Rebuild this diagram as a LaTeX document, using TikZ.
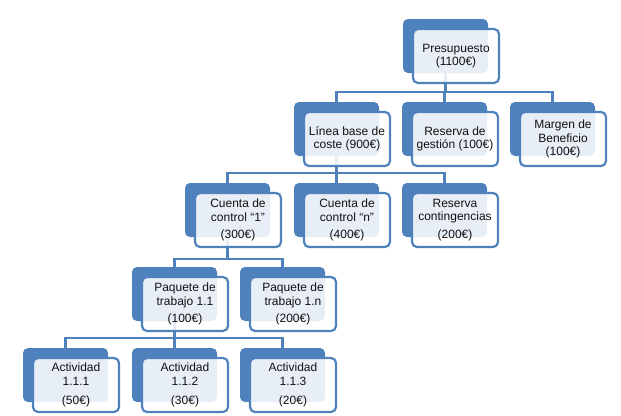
\documentclass[tikz,border=0pt]{standalone}
\usepackage{fontspec}
\setmainfont{Liberation Sans}
\definecolor{hblue}{HTML}{4F81BD}
\definecolor{htext}{HTML}{111111}
\begin{document}
\begin{tikzpicture}[x=1pt,y=-1pt,
  back/.style={rectangle, rounded corners=5pt, fill=hblue, draw=none, minimum width=85pt, minimum height=54pt, inner sep=0pt},
  front/.style={rectangle, rounded corners=5pt, draw=hblue, line width=2.2pt, fill=white, fill opacity=0.87, text opacity=1, minimum width=86pt, minimum height=54pt, inner sep=1pt, align=center, text=htext, font=\fontsize{12}{13.2}\selectfont},
  conn/.style={draw=hblue, line width=2.4pt}]
\useasboundingbox (0,0) rectangle (621,415);
% junction levels
\coordinate (j1) at (0,92);
\coordinate (j2) at (0,173);
\coordinate (j3) at (0,259);
\coordinate (j4) at (0,338);
% back boxes
\node[back] (b1) at (445.5,46) {};
\node[back] (b21) at (336.5,129) {};
\node[back] (b22) at (444.5,129) {};
\node[back] (b23) at (552.5,129) {};
\node[back] (b31) at (227.5,210) {};
\node[back] (b32) at (336.5,210) {};
\node[back] (b33) at (444.5,210) {};
\node[back] (b41) at (174.5,294) {};
\node[back] (b42) at (282.5,294) {};
\node[back] (b51) at (65.5,375) {};
\node[back] (b52) at (174.5,375) {};
\node[back] (b53) at (282.5,375) {};
% connectors
\foreach \c in {b21,b22,b23}{\draw[conn] (b1.south) |- (\c.north |- j1) -- (\c.north);}
\foreach \c in {b31,b32,b33}{\draw[conn] (b21.south) |- (\c.north |- j2) -- (\c.north);}
\foreach \c in {b41,b42}{\draw[conn] (b31.south) |- (\c.north |- j3) -- (\c.north);}
\foreach \c in {b51,b52,b53}{\draw[conn] (b41.south) |- (\c.north |- j4) -- (\c.north);}
% front boxes
\node[front] (f1) at (456,56) {Presupuesto\\(1100€)};
\node[front] (f21) at (347,139) {Línea base de\\coste (900€)};
\node[front] (f22) at (455,139) {Reserva de\\gestión (100€)};
\node[front] (f23) at (563,139) {Margen de\\Beneficio\\(100€)};
\node[front] (f31) at (238,220) {Cuenta de\\control “1”\\[4pt](300€)};
\node[front] (f32) at (347,220) {Cuenta de\\control “n”\\[4pt](400€)};
\node[front] (f33) at (455,220) {Reserva\\contingencias\\[4pt](200€)};
\node[front] (f41) at (185,304) {Paquete de\\trabajo 1.1\\[4pt](100€)};
\node[front] (f42) at (293,304) {Paquete de\\trabajo 1.n\\[4pt](200€)};
\node[front] (f51) at (76,385) {Actividad\\1.1.1\\[6pt](50€)};
\node[front] (f52) at (185,385) {Actividad\\1.1.2\\[6pt](30€)};
\node[front] (f53) at (293,385) {Actividad\\1.1.3\\[6pt](20€)};
\end{tikzpicture}
\end{document}
